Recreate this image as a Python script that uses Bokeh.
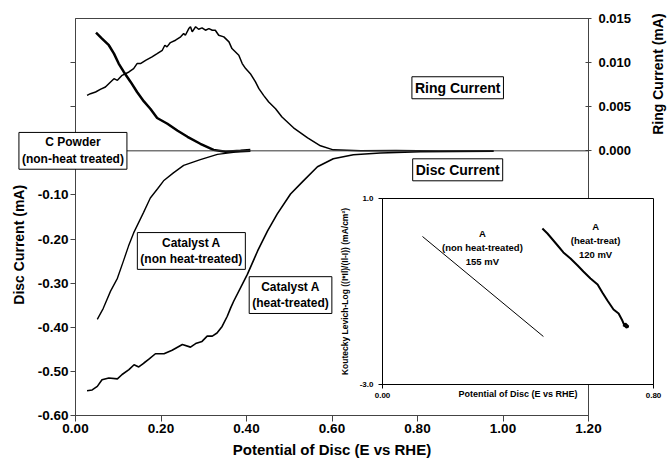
from math import pi
from bokeh.plotting import figure
from bokeh.models import Range1d, LinearAxis, FixedTicker, NumeralTickFormatter, Span, Label
from bokeh.embed import file_html
from bokeh.resources import INLINE

FONT = "Liberation Sans"
AX = "#444444"

# ---------------- data ----------------
# Ring currents (mA, right axis) vs potential of disc (V vs RHE)
ring_nonheat_x = [0.048, 0.062, 0.078, 0.090, 0.101, 0.113, 0.129, 0.144, 0.160, 0.175, 0.191,
                  0.215, 0.239, 0.262, 0.292, 0.323, 0.351, 0.386, 0.409]
ring_nonheat_y = [0.01341, 0.01273, 0.01197, 0.01102, 0.00989, 0.00894, 0.00781, 0.00667, 0.00560,
                  0.00477, 0.00372, 0.00307, 0.00227, 0.00159, 0.00080, 0.00011, -0.00011, 0.0, 0.0001]

ring_heat_x = [0.027, 0.035, 0.047, 0.058, 0.070, 0.082, 0.090, 0.098, 0.109, 0.125,
               0.136, 0.144, 0.152, 0.164, 0.179, 0.191, 0.203, 0.209, 0.214, 0.222,
               0.234, 0.246, 0.253, 0.257, 0.265, 0.269, 0.273, 0.281, 0.288, 0.296,
               0.304, 0.312, 0.320, 0.327, 0.335, 0.347, 0.359, 0.366, 0.382, 0.390,
               0.398, 0.409, 0.421, 0.429, 0.440, 0.452, 0.468, 0.483,
               0.510, 0.543, 0.573, 0.603, 0.667, 0.750, 0.850, 0.978]
ring_heat_y = [0.00629, 0.00648, 0.00667, 0.00697, 0.00724, 0.00781, 0.00818, 0.00799, 0.00856, 0.00894,
               0.00932, 0.00989, 0.00989, 0.01026, 0.01065, 0.01102, 0.01140, 0.01197, 0.01178, 0.01227,
               0.01254, 0.01292, 0.01330, 0.01310, 0.01386, 0.01406, 0.01349, 0.01406, 0.01378, 0.01394,
               0.01367, 0.01386, 0.01367, 0.01367, 0.01310, 0.01292, 0.01235, 0.01159, 0.01083, 0.00989,
               0.00932, 0.00875, 0.00781, 0.00705, 0.00629, 0.00553, 0.00477, 0.00383,
               0.00261, 0.00148, 0.00057, 0.00011, 0.0, 0.00005, -0.00003, 0.00002]

# Disc currents (mA, left axis)
disc_nonheat_x = [0.051, 0.065, 0.082, 0.098, 0.112, 0.124, 0.136, 0.159, 0.175, 0.192, 0.206,
                  0.229, 0.253, 0.292, 0.332, 0.374, 0.409]
disc_nonheat_y = [-0.382, -0.357, -0.318, -0.289, -0.250, -0.216, -0.186, -0.140, -0.107, -0.086,
                  -0.068, -0.050, -0.033, -0.020, -0.008, -0.003, -0.001]

disc_heat_x = [0.027, 0.039, 0.051, 0.062, 0.078, 0.098, 0.109, 0.125, 0.137, 0.148,
               0.160, 0.171, 0.187, 0.207, 0.226, 0.250, 0.269, 0.281, 0.296, 0.308,
               0.320, 0.331, 0.343, 0.355, 0.363, 0.370,
               0.402, 0.426, 0.449, 0.472, 0.503, 0.533, 0.566, 0.603, 0.650, 0.713, 0.807, 0.978]
disc_heat_y = [-0.544, -0.542, -0.534, -0.519, -0.515, -0.517, -0.507, -0.496, -0.485, -0.490,
               -0.481, -0.473, -0.460, -0.460, -0.452, -0.439, -0.445, -0.437, -0.432, -0.420,
               -0.420, -0.413, -0.398, -0.375, -0.356, -0.341,
               -0.280, -0.227, -0.182, -0.143, -0.098, -0.068, -0.036, -0.018, -0.009, -0.005, -0.002, -0.001]

# Inset: Koutecky-Levich log plot
kl_nonheat_x = [0.118, 0.475]
kl_nonheat_y = [0.183, -1.968]
kl_heat_x = [0.472, 0.487, 0.502, 0.517, 0.534, 0.555, 0.576, 0.593, 0.614, 0.635,
             0.649, 0.664, 0.682, 0.697, 0.708, 0.714, 0.720, 0.726, 0.717, 0.711]
kl_heat_y = [0.355, 0.247, 0.118, -0.011, -0.161, -0.290, -0.441, -0.570, -0.720, -0.849,
             -1.021, -1.194, -1.387, -1.473, -1.624, -1.731, -1.774, -1.753, -1.688, -1.753]

x_ticks = [0.0, 0.2, 0.4, 0.6, 0.8, 1.0, 1.2]
disc_ticks = [-0.6, -0.5, -0.4, -0.3, -0.2, -0.1, 0.0, 0.1, 0.2]
ring_ticks = [0.0, 0.005, 0.01, 0.015]
inset_x_ticks = [0.0, 0.8]
inset_y_ticks = [-3.0, 1.0]

# ---------------- geometry ----------------
W, H = 667, 465
BL, BR, BT, BB = 75, 79, 18, 50          # main frame borders
X0, X1 = 0.0, 1.2
Y0, Y1 = -0.6, 0.3
R0, R1 = -0.030, 0.015

# ---------------- main figure ----------------
p = figure(width=W, height=H, x_range=Range1d(X0, X1), y_range=Range1d(Y0, Y1),
           output_backend="svg", toolbar_location=None,
           min_border_left=BL, min_border_right=BR, min_border_top=BT, min_border_bottom=BB,
           background_fill_color="white", border_fill_color="white")
p.grid.visible = False
p.outline_line_color = AX
p.outline_line_width = 1

p.extra_y_ranges = {"ring": Range1d(R0, R1)}

xa = p.xaxis[0]
xa.ticker = FixedTicker(ticks=x_ticks)
xa.formatter = NumeralTickFormatter(format="0.00")
xa.axis_label = "Potential of Disc (E vs RHE)"
xa.major_tick_out = 6
xa.major_tick_in = 0
xa.minor_tick_out = 0
xa.major_label_standoff = 2
xa.axis_label_standoff = 5

ya = p.yaxis[0]
ya.ticker = FixedTicker(ticks=disc_ticks)
ya.formatter = NumeralTickFormatter(format="0.00")
ya.major_label_overrides = {0.0: "", 0.1: "", 0.2: ""}
ya.major_tick_out = 5
ya.major_tick_in = 0
ya.minor_tick_out = 0
ya.major_label_standoff = 2

ra = LinearAxis(y_range_name="ring", ticker=FixedTicker(ticks=ring_ticks),
                formatter=NumeralTickFormatter(format="0.000"))
ra.major_tick_out = 3
ra.major_tick_in = 3
ra.minor_tick_out = 0
ra.major_label_standoff = 7
p.add_layout(ra, "right")

for ax in (xa, ya, ra):
    ax.axis_line_color = AX
    ax.major_tick_line_color = AX
    ax.major_label_text_font = FONT
    ax.major_label_text_font_style = "bold"
    ax.major_label_text_font_size = "13.5px"
    ax.major_label_text_color = "black"
    ax.axis_label_text_font = FONT
    ax.axis_label_text_font_style = "bold"
    ax.axis_label_text_font_size = "15px"
    ax.axis_label_text_color = "black"
ra.major_label_text_font_size = "13px"

p.add_layout(Span(location=0, dimension="width", line_color="#333333", line_width=1))

p.line(ring_heat_x, ring_heat_y, y_range_name="ring", line_color="black", line_width=1.5)
p.line(ring_nonheat_x, ring_nonheat_y, y_range_name="ring", line_color="black", line_width=2.5)
p.line(disc_nonheat_x, disc_nonheat_y, line_color="black", line_width=1.4)
p.line(disc_heat_x, disc_heat_y, line_color="black", line_width=1.6)


def box(fig, x, y, text, size):
    fig.add_layout(Label(x=x, y=y, text=text, text_align="center", text_baseline="middle",
                         text_font=FONT, text_font_style="bold", text_font_size=size,
                         text_color="black", background_fill_color="white",
                         border_line_color="black", border_line_width=1, padding=3))


box(p, 0.894, 0.143, "Ring Current", "14px")
box(p, 0.894, -0.043, "Disc Current", "14px")
box(p, 0.271, -0.227, "Catalyst A\n(non heat-treated)", "12px")
box(p, 0.503, -0.327, "Catalyst A\n(heat-treated)", "12px")

# ---------------- inset figure (overlaid on the main chart) ----------------
IL, IR, IT, IB = 382, 14, 10, 21
IH = 217
ins = figure(width=W, height=IH, x_range=Range1d(0, 0.8), y_range=Range1d(-3, 1),
             output_backend="svg", toolbar_location=None,
             min_border_left=IL, min_border_right=IR, min_border_top=IT, min_border_bottom=IB,
             background_fill_color="white", border_fill_alpha=0,
             margin=(188 - H, 0, 0, 0))
ins.grid.visible = False
ins.outline_line_color = "black"
ins.outline_line_width = 1

ixa = ins.xaxis[0]
ixa.ticker = FixedTicker(ticks=inset_x_ticks)
ixa.formatter = NumeralTickFormatter(format="0.00")
ixa.axis_label = "Potential of Disc (E vs RHE)"
ixa.major_tick_out = 4
ixa.major_tick_in = 0
ixa.major_label_standoff = 4
ixa.axis_label_standoff = -12

iya = ins.yaxis[0]
iya.ticker = FixedTicker(ticks=inset_y_ticks)
iya.formatter = NumeralTickFormatter(format="0.0")
iya.axis_label = "Koutecky Levich-Log ((I*Il)/(Il-I)) (mA/cm\u00b2)"
iya.major_tick_out = 4
iya.major_tick_in = 0
iya.major_label_standoff = 5
iya.axis_label_standoff = 7

for ax in (ixa, iya):
    ax.minor_tick_out = 0
    ax.minor_tick_in = 0
    ax.axis_line_color = "black"
    ax.major_tick_line_color = "black"
    ax.major_label_text_font = FONT
    ax.major_label_text_font_style = "bold"
    ax.major_label_text_font_size = "8px"
    ax.major_label_text_color = "black"
    ax.axis_label_text_font = FONT
    ax.axis_label_text_font_style = "bold"
    ax.axis_label_text_font_size = "9px"
    ax.axis_label_text_color = "black"
iya.axis_label_text_font_size = "8.5px"

ins.line(kl_nonheat_x, kl_nonheat_y, line_color="black", line_width=1)
ins.line(kl_heat_x, kl_heat_y, line_color="black", line_width=2)

for x, y, t in [(0.295, -0.054, "A\n(non heat-treated)\n155 mV"), (0.629, 0.097, "A\n(heat-treat)\n120 mV")]:
    ins.add_layout(Label(x=x, y=y, text=t, text_align="center", text_baseline="middle",
                         text_font=FONT, text_font_style="bold", text_font_size="9.5px",
                         text_color="black", text_line_height=1.3))

# ---------------- transparent overlay with the same scales (texts outside the frame) ----------------
fw = W - BL - BR
fh = H - BT - BB
sx = (X1 - X0) / fw
sy = (Y1 - Y0) / fh
sr = (R1 - R0) / fh
ov = figure(width=W, height=H,
            x_range=Range1d(X0 - BL * sx, X1 + BR * sx),
            y_range=Range1d(Y0 - BB * sy, Y1 + BT * sy),
            output_backend="svg", toolbar_location=None,
            x_axis_location=None, y_axis_location=None,
            min_border=0, min_border_left=0, min_border_right=0, min_border_top=0, min_border_bottom=0,
            background_fill_alpha=0, border_fill_alpha=0, outline_line_color=None,
            margin=(-(188 + IH), 0, 0, 0))
ov.grid.visible = False
ov.extra_y_ranges = {"ring": Range1d(R0 - BB * sr, R1 + BT * sr)}

box(ov, -0.006, 0.0, "C Powder\n(non-heat treated)", "12px")
# axis titles (placed as in the reference, off-centre)
ov.add_layout(Label(x=-0.133, y=-0.213, text="Disc Current (mA)", angle=pi / 2,
                    text_align="center", text_baseline="middle", text_font=FONT,
                    text_font_style="bold", text_font_size="14px", text_color="black"))
ov.add_layout(Label(x=1.362, y=0.0087, y_range_name="ring", text="Ring Current (mA)", angle=pi / 2,
                    text_align="center", text_baseline="middle", text_font=FONT,
                    text_font_style="bold", text_font_size="14px", text_color="black"))

open("out.html", "w").write(file_html([p, ins, ov], INLINE))
